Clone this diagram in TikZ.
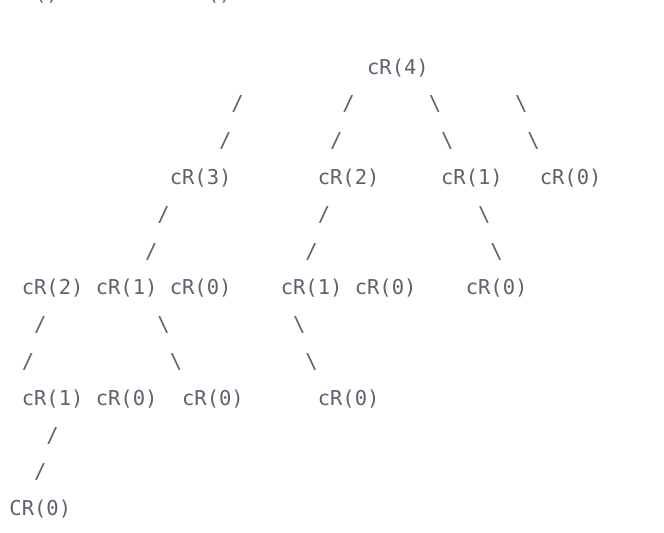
\documentclass[tikz,border=0pt]{standalone}
\usepackage{fontspec}
\usepackage{tikz}
\newfontfamily\treefont{DejaVu Sans Mono}
\definecolor{codegrey}{RGB}{90,99,110}
\newcommand{\sll}{/}
\newcommand{\slr}{\textbackslash}

\begin{document}
\begin{tikzpicture}[x=9.25pt,y=-27.6pt,
	cell/.style={anchor=base west,inner sep=0pt,outer sep=0pt,text=codegrey,
		font=\treefont\fontsize{15.37pt}{18pt}\selectfont}]
	\useasboundingbox[fill=white] (-7.1pt,0.3pt) rectangle (490.9pt,-398.7pt);
	% last line of the part above, cut by the page
	\node[cell] (top1) at (2,0) {()};
	\node[cell] (top2) at (16,0) {()};
	% calls
	\foreach \c/\r/\t [count=\i] in {29/2/cR(4),
			13/5/cR(3),25/5/cR(2),35/5/cR(1),43/5/cR(0),
			1/8/cR(2),7/8/cR(1),13/8/cR(0),22/8/cR(1),28/8/cR(0),37/8/cR(0),
			1/11/cR(1),7/11/cR(0),14/11/cR(0),25/11/cR(0),
			0/14/CR(0)}
		\node[cell] (call\i) at (\c,\r) {\t};
	% branches
	\foreach \c/\r/\t [count=\i] in {18/3/\sll,27/3/\sll,34/3/\slr,41/3/\slr,
			17/4/\sll,26/4/\sll,35/4/\slr,42/4/\slr,
			12/6/\sll,25/6/\sll,38/6/\slr,
			11/7/\sll,24/7/\sll,39/7/\slr,
			2/9/\sll,12/9/\slr,23/9/\slr,
			1/10/\sll,13/10/\slr,24/10/\slr,
			3/12/\sll,
			2/13/\sll}
		\node[cell] (edge\i) at (\c,\r) {\t};
\end{tikzpicture}
\end{document}
